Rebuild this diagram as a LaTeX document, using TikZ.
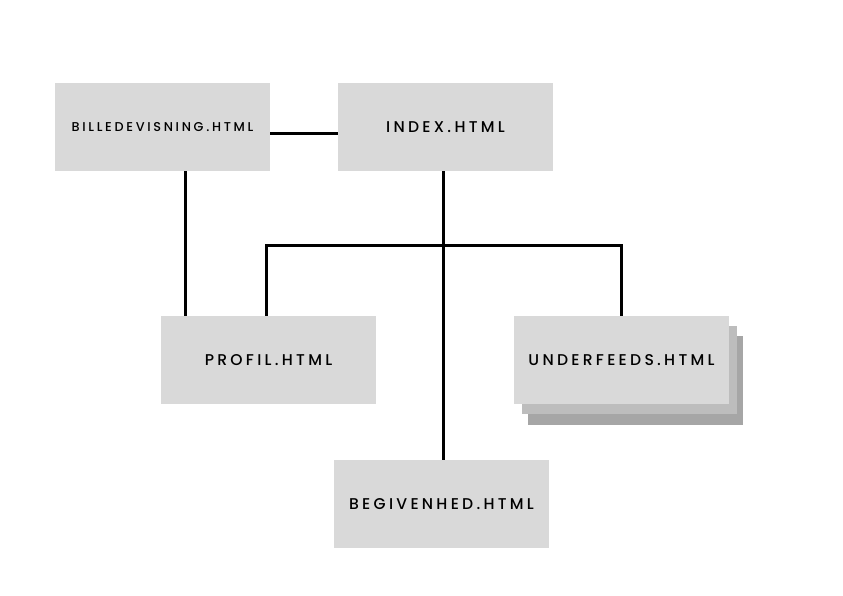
\documentclass[tikz,border=0pt]{standalone}
\usepackage{fontspec}
\setmainfont{Poppins}[UprightFont=* Medium, LetterSpace=21]
\begin{document}
\begin{tikzpicture}[x=1pt,y=-1pt,
  page/.style={rectangle, fill=boxgray, draw=none, minimum width=215pt, minimum height=88pt, inner sep=0pt, font=\fontsize{15.6}{18}\selectfont, text=black},
  conn/.style={line width=3pt, draw=black},
  shadowA/.style={fill=shadeA, draw=none},
  shadowB/.style={fill=shadeB, draw=none}]
\definecolor{boxgray}{HTML}{D9D9D9}
\definecolor{shadeA}{HTML}{BDBDBD}
\definecolor{shadeB}{HTML}{A6A6A6}
\useasboundingbox[fill=white] (0,0) rectangle (843,596);
% stacked shadows for underfeeds
\fill[shadowB] (528,336) rectangle (743,425);
\fill[shadowA] (522,326) rectangle (737,414);
\node[page, font=\fontsize{12.8}{14}\selectfont] (bil) at (162.5,127) {BILLEDEVISNING.HTML};
\node[page] (idx) at (445.5,127) {INDEX.HTML};
\node[page] (pro) at (268.5,360) {PROFIL.HTML};
\node[page] (und) at (621.5,360) {\raisebox{-4pt}{UNDERFEEDS.HTML}};
\node[page] (beg) at (441.5,504) {BEGIVENHED.HTML};
\coordinate (j) at (443,245);
\coordinate (jl) at (266,245);
\coordinate (jr) at (621,245);
\coordinate (bx) at (185,0);
\coordinate (hy) at (0,134);
\draw[conn] (bil.east |- hy) -- (idx.west |- hy);
\draw[conn] (bil.south -| bx) -- (pro.north -| bx);
\draw[conn] (idx.south -| j) -- (beg.north -| j);
\draw[conn] (pro.north -| jl) -- (jl) -- (jr) -- (und.north -| jr);
\end{tikzpicture}
\end{document}
